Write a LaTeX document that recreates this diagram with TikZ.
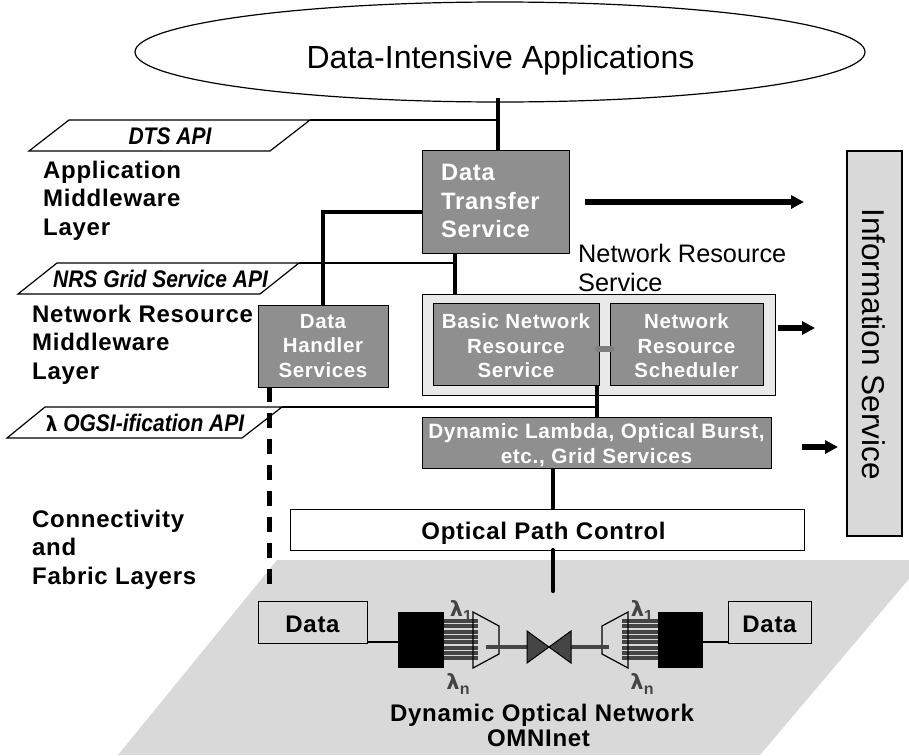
\documentclass[tikz,border=0pt]{standalone}
\usepackage{graphicx}
\usepackage{fontspec}
\setmainfont{Liberation Sans}
\newfontfamily\bsp[LetterSpace=3]{Liberation Sans Bold}
\newfontfamily\lamit{DejaVu Sans Bold Oblique}
\newfontfamily\lambf{DejaVu Sans Bold}
\usetikzlibrary{shapes.geometric,arrows.meta}
\definecolor{boxg}{HTML}{8F8F8F}
\definecolor{plane}{HTML}{D9D9D9}
\definecolor{outerg}{HTML}{E9E9E9}
\definecolor{dark}{HTML}{454545}
\definecolor{linkg}{HTML}{7F7F7F}
\newcommand{\squeezed}[1]{\scalebox{0.875}[1]{#1}}
\newcommand{\lsub}[1]{\raisebox{-5pt}{\bsp\fontsize{16}{16}\selectfont #1}}
\newcommand{\toprule}[1]{\rule{0pt}{#1pt}}
\tikzset{
 x=1pt,y=-1pt,
 gbox/.style={draw=black,line width=1pt,fill=boxg,text=white,inner sep=0pt,align=center,font=\fontsize{20.5}{24.5}\bsp},
 wbox/.style={draw=black,line width=1pt,fill=white,inner sep=0pt,text height=20pt,text depth=0pt,font=\fontsize{24}{26}\bsp},
 dbox/.style={draw=black,line width=1pt,fill=plane,inner sep=0pt,text height=20pt,text depth=0pt,font=\fontsize{24}{26}\bsp},
 laylabel/.style={anchor=west,inner sep=0pt,align=left,font=\fontsize{24}{28.5}\bsp},
 apilabel/.style={inner sep=0pt,font=\fontsize{24}{26}\selectfont\bfseries\itshape},
 para/.style={draw=black,line width=1.2pt,fill=white},
 thin conn/.style={draw=black,line width=1.2pt},
 thick conn/.style={draw=black,line width=4.2pt},
 arr/.style={draw=black,line width=5.5pt,-{Triangle[length=13pt,width=13pt]}},
 fibre/.style={draw=dark,line width=4pt},
 lam/.style={text=dark,inner sep=0pt,font=\fontsize{21}{21}\lambf},
}
\begin{document}
\begin{tikzpicture}
\useasboundingbox (0,0) rectangle (909,755);
\begin{scope}
\clip (0,0) rectangle (909,755);
\fill[plane] (277,560) -- (925,560) -- (760,755) -- (118,755) -- cycle;
\end{scope}

% coordinates
\coordinate (dtsEnd) at (498,120);
\coordinate (nrsEnd) at (455,263);
\coordinate (ogsiEnd) at (597,407);

% API planes
\draw[para] (69,120) -- (310,120) -- (270,151) -- (29,151) -- cycle;
\draw[para] (57,263) -- (299,263) -- (260,294) -- (18,294) -- cycle;
\draw[para] (45,407) -- (282,407) -- (242,438) -- (7,438) -- cycle;
\node[apilabel] (dtsapi) at (170,136) {\squeezed{DTS API}};
\node[apilabel] (nrsapi) at (160.5,279) {\squeezed{NRS Grid Service API}};
\node[apilabel] (ogsiapi) at (145,423) {\squeezed{{\lamit\fontsize{21}{24}\selectfont λ} OGSI-ification API}};

\draw[thin conn] (310,120) -- (dtsEnd);
\draw[thin conn] (299,263) -- (nrsEnd);
\draw[thin conn] (282,407) -- (ogsiEnd);

% ellipse
\node[draw=black,line width=1.2pt,fill=white,ellipse,minimum width=730pt,minimum height=100pt,inner sep=0pt] (apps) at (500,52) {};
\node[anchor=base,inner sep=0pt,font=\fontsize{32}{36}\selectfont] (appstext) at (500.5,68) {Data-Intensive Applications};

% boxes
\node[gbox,minimum width=147pt,minimum height=103pt] (dts) at (495.5,201.5) {};
\node[anchor=west,inner sep=0pt,align=left,text=white,font=\fontsize{23.7}{28.3}\bsp] (dtstext) at (441,201) {Data\\Transfer\\Service};
\node[gbox,minimum width=130pt,minimum height=82pt] (dh) at (323,346) {Data\\Handler\\Services};
\node[draw=black,line width=1pt,fill=outerg,minimum width=353pt,minimum height=101pt,inner sep=0pt] (nrs) at (598.5,344.5) {};
\node[gbox,minimum width=166pt,minimum height=82pt] (basic) at (516,344) {\toprule{18.5}Basic Network\\Resource\\Service};
\node[gbox,minimum width=153pt,minimum height=82pt] (sched) at (686.5,344) {\toprule{18.5}Network\\Resource\\Scheduler};
\node[gbox,minimum width=349pt,minimum height=51pt,font=\fontsize{20.8}{25}\bsp] (dyn) at (596.5,442.5) {\toprule{20.5}Dynamic Lambda, Optical Burst,\\etc., Grid Services};
\node[wbox,minimum width=514pt,minimum height=41pt] (opc) at (547,529.5) {Optical Path Control\hspace*{7pt}};
\node[draw=black,line width=1.2pt,fill=plane,minimum width=55pt,minimum height=385pt,inner sep=0pt] (info) at (874.5,343.5) {};
\node[rotate=-90,anchor=base,inner sep=0pt,font=\fontsize{31.5}{34}\selectfont] (infotext) at (862,344) {Information Service};

% connectors
\draw[thick conn] (498,98) -- (498,150);
\draw[thick conn] (422,212) -- (323,212) -- (323,305);
\draw[thick conn] (455,253) -- (455,294);
\draw[draw=linkg,line width=6.3pt,line cap=round] (598,349) -- (611,349);
\draw[thick conn] (597,385) -- (597,417);
\draw[thick conn] (553,468) -- (553,509);
\draw[thick conn,line cap=round] (553,550) -- (553,591);
\draw[thick conn,line width=5pt,dash pattern=on 15pt off 11pt] (269,387) -- (269,590);

% text labels
\node[laylabel] (l1) at (43,200.5) {Application\\Middleware\\Layer};
\node[laylabel] (l2) at (32,344.5) {Network Resource\\Middleware\\Layer};
\node[laylabel] (l3) at (32,549.5) {Connectivity\\and\\Fabric Layers};
\node[anchor=west,inner sep=0pt,align=left,font=\fontsize{25.3}{29}\selectfont] (nrst) at (578,267.5) {Network Resource\\Service};

% arrows
\coordinate (a1s) at (585,202); \coordinate (a1e) at (804,202);
\coordinate (a2s) at (778,328); \coordinate (a2e) at (815,328);
\coordinate (a3s) at (802,447); \coordinate (a3e) at (838,447);
\draw[arr] (a1s) -- (a1e);
\draw[arr] (a2s) -- (a2e);
\draw[arr] (a3s) -- (a3e);

% optical
\node[dbox,minimum width=109pt,minimum height=42pt] (dl) at (312.5,622) {Data};
\node[dbox,minimum width=83pt,minimum height=42pt] (dr) at (769.5,622) {Data};
\node[fill=black,minimum width=46pt,minimum height=56pt,inner sep=0pt] (bl) at (421,640) {};
\node[fill=black,minimum width=45pt,minimum height=56pt,inner sep=0pt] (br) at (680.5,640) {};
\draw[line width=1.2pt] (367,642) -- (398,642);
\draw[line width=1.2pt] (703,642) -- (728,642);
\foreach \yy in {621,626.3,631.6,636.9,642.2,647.5,652.8,658}{
  \draw[fibre] (444,\yy) -- (478,\yy);
  \draw[fibre] (622,\yy) -- (658,\yy);
}
\draw[draw=black,line width=1.2pt] (473,612) -- (499,626) -- (499,654) -- (473,668) -- cycle;
\draw[draw=black,line width=1.2pt] (628,612) -- (602,626) -- (602,654) -- (628,668) -- cycle;
\draw[fibre] (486,647) -- (527,647);
\draw[fibre] (571,647) -- (609,647);
\draw[draw=black,fill=dark,line width=1pt] (527,631) -- (527,663) -- (549,647) -- cycle;
\draw[draw=black,fill=dark,line width=1pt] (571,631) -- (571,663) -- (549,647) -- cycle;
\node[lam] (l1a) at (461,611) {λ\lsub{1}};
\node[lam] (lna) at (458,684) {λ\lsub{n}};
\node[lam] (l1b) at (642,611) {λ\lsub{1}};
\node[lam] (lnb) at (642,684) {λ\lsub{n}};
\node[inner sep=0pt,align=center,font=\fontsize{24}{25}\bsp] (don) at (542,725.5) {Dynamic Optical Network\\OMNInet\hspace*{7pt}};
\end{tikzpicture}
\end{document}
